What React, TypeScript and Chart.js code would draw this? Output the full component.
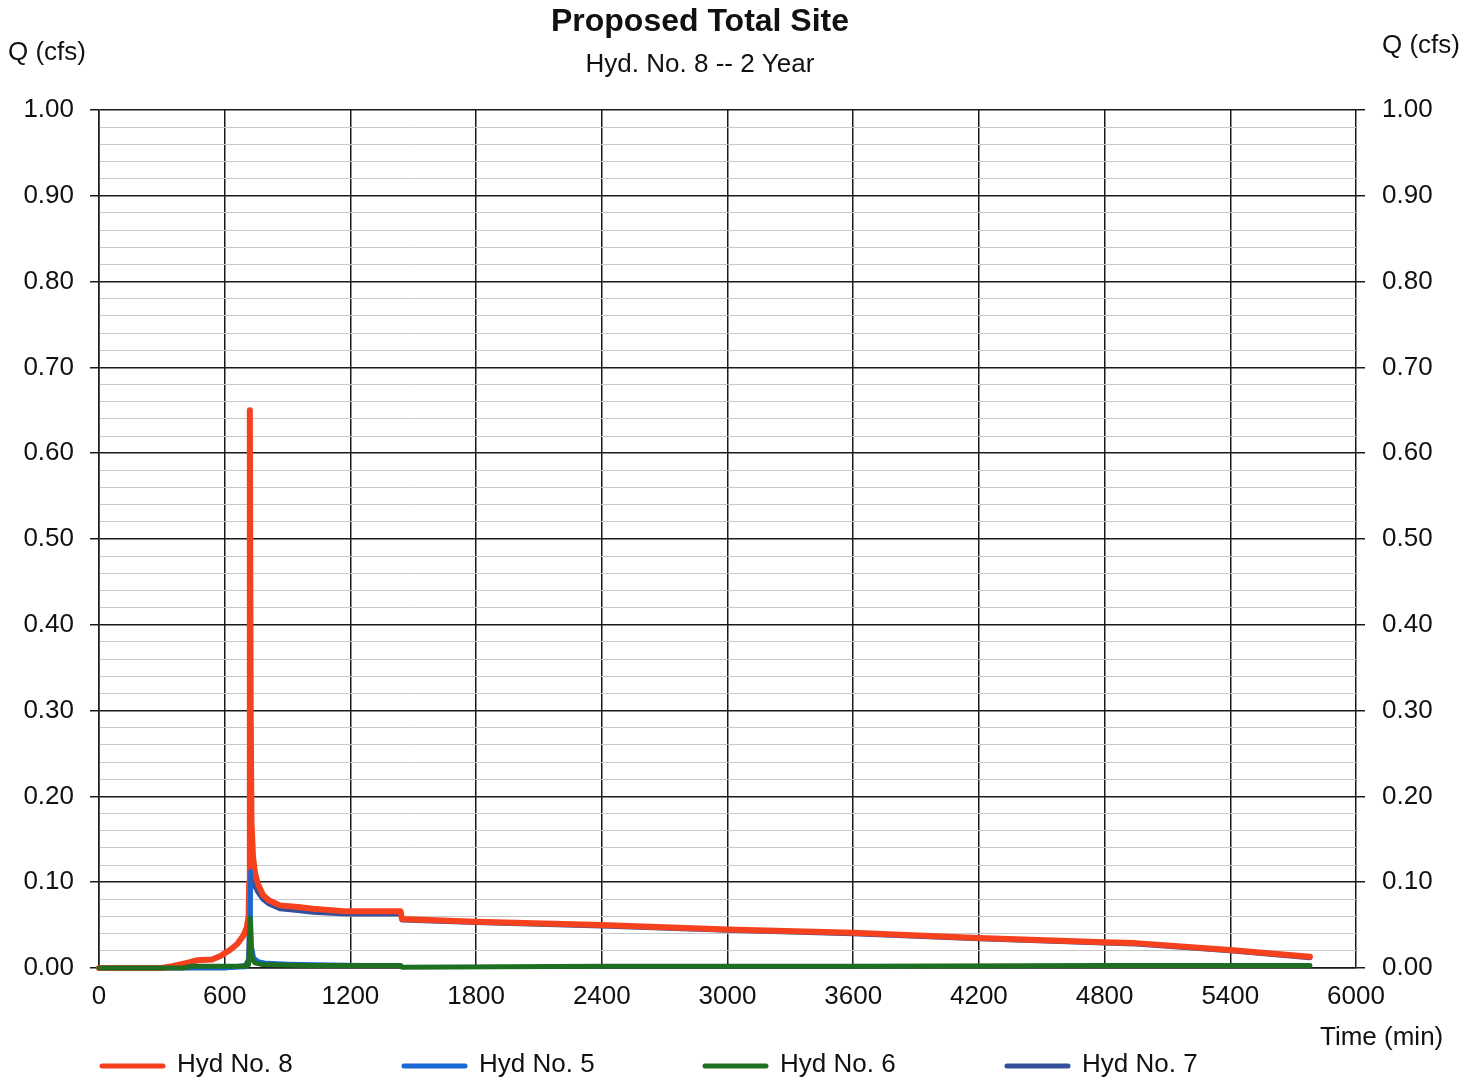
import React, { useEffect, useRef } from 'react';
import { Chart, registerables } from 'chart.js';

Chart.register(...registerables);

const chartTitle = 'Proposed Total Site';
const chartSubtitle = 'Hyd. No. 8 -- 2 Year';
const yAxisTitle = 'Q (cfs)';
const xAxisTitle = 'Time (min)';

const xTicks = [0, 600, 1200, 1800, 2400, 3000, 3600, 4200, 4800, 5400, 6000];
const yMajorTicks = [0, 0.1, 0.2, 0.3, 0.4, 0.5, 0.6, 0.7, 0.8, 0.9, 1.0];
const yMinorStep = 0.02;

const seriesLabels = ['Hyd No. 8', 'Hyd No. 5', 'Hyd No. 6', 'Hyd No. 7'];
const seriesColors = ['#f5411e', '#1768d4', '#1f6f22', '#34509c'];

const hyd8Time = [0, 300, 350, 420, 470, 540, 580, 625, 660, 690, 705, 714, 717, 720, 724, 728, 735, 745, 760, 783, 810, 864, 950, 1020, 1183, 1300, 1440, 1446, 1800, 2400, 3000, 3600, 4200, 4800, 4950, 5400, 5780];
const hyd8Flow = [0, 0, 0.002, 0.006, 0.009, 0.010, 0.014, 0.021, 0.028, 0.038, 0.047, 0.060, 0.10, 0.65, 0.30, 0.17, 0.13, 0.11, 0.097, 0.085, 0.079, 0.073, 0.071, 0.069, 0.066, 0.066, 0.066, 0.057, 0.054, 0.050, 0.045, 0.041, 0.035, 0.030, 0.029, 0.021, 0.013];

const hyd5Time = [0, 600, 700, 714, 718, 722, 725, 730, 740, 760, 800, 900, 1100, 1440];
const hyd5Flow = [0, 0, 0.001, 0.004, 0.03, 0.113, 0.06, 0.025, 0.012, 0.008, 0.006, 0.005, 0.004, 0.003];

const hyd6Time = [0, 400, 440, 700, 714, 718, 722, 726, 732, 745, 780, 1000, 1440, 1446, 2400, 3600, 4800, 5780];
const hyd6Flow = [0, 0, 0.002, 0.002, 0.004, 0.02, 0.058, 0.02, 0.01, 0.006, 0.004, 0.003, 0.003, 0.001, 0.002, 0.002, 0.003, 0.003];

const hyd7Time = [0, 600, 700, 714, 718, 722, 726, 735, 745, 760, 783, 810, 864, 950, 1020, 1183, 1440, 1446, 1800, 2400, 3000, 3600, 4200, 4800, 4950, 5400, 5780];
const hyd7Flow = [0, 0, 0.003, 0.01, 0.06, 0.125, 0.12, 0.105, 0.095, 0.088, 0.080, 0.075, 0.069, 0.067, 0.065, 0.063, 0.063, 0.056, 0.053, 0.049, 0.044, 0.040, 0.034, 0.029, 0.028, 0.020, 0.012];

const FONT = '"Liberation Sans", Arial, sans-serif';

const isMajor = (v: number) => yMajorTicks.some((m) => Math.abs(m - v) < 1e-6);

const toPoints = (t: number[], q: number[]) => t.map((x, i) => ({ x, y: q[i] }));

const textPlugin = {
  id: 'textPlugin',
  afterDraw(chart: any) {
    const ctx = chart.ctx as CanvasRenderingContext2D;
    ctx.save();
    ctx.fillStyle = '#111';
    ctx.textBaseline = 'middle';
    ctx.textAlign = 'center';
    ctx.font = `bold 32px ${FONT}`;
    ctx.fillText(chartTitle, 700, 22);
    ctx.font = `26px ${FONT}`;
    ctx.fillText(chartSubtitle, 700, 65);
    ctx.textAlign = 'left';
    ctx.fillText(yAxisTitle, 8, 53);
    ctx.fillText(yAxisTitle, 1382, 46);
    ctx.fillText(xAxisTitle, 1320, 1038);
    const legendX = [100, 402, 703, 1005];
    seriesLabels.forEach((label, i) => {
      const x = legendX[i];
      ctx.strokeStyle = seriesColors[i];
      ctx.lineWidth = 5;
      ctx.lineCap = 'round';
      ctx.beginPath();
      ctx.moveTo(x + 2, 1066);
      ctx.lineTo(x + 63, 1066);
      ctx.stroke();
      ctx.fillStyle = '#111';
      ctx.fillText(label, x + 77, 1065);
    });
    ctx.restore();
  },
};

export default function App() {
  const ref = useRef<HTMLCanvasElement | null>(null);

  useEffect(() => {
    if (!ref.current) return;
    const gridColor = (c: any) => (c.tick && isMajor(c.tick.value) ? '#1a1a1a' : '#c8c8c8');
    const gridWidth = (c: any) => (c.tick && isMajor(c.tick.value) ? 1.5 : 1);
    const tickColor = (c: any) => (c.tick && isMajor(c.tick.value) ? '#1a1a1a' : 'rgba(0,0,0,0)');
    const buildYTicks = (scale: any) => {
      const n = Math.round(1 / yMinorStep);
      const ticks = [];
      for (let i = 0; i <= n; i++) ticks.push({ value: +(i * yMinorStep).toFixed(2) });
      scale.ticks = ticks;
    };
    const yLabel = (v: any) => (isMajor(Number(v)) ? Number(v).toFixed(2) : '');

    const chart = new Chart(ref.current, {
      type: 'line',
      data: {
        datasets: [
          { label: seriesLabels[2], data: toPoints(hyd6Time, hyd6Flow), borderColor: seriesColors[2], borderWidth: 5, order: 0 },
          { label: seriesLabels[1], data: toPoints(hyd5Time, hyd5Flow), borderColor: seriesColors[1], borderWidth: 4, order: 1 },
          { label: seriesLabels[0], data: toPoints(hyd8Time, hyd8Flow), borderColor: seriesColors[0], borderWidth: 6, order: 2 },
          { label: seriesLabels[3], data: toPoints(hyd7Time, hyd7Flow), borderColor: seriesColors[3], borderWidth: 5, order: 3 },
        ] as any,
      },
      options: {
        animation: false,
        responsive: false,
        devicePixelRatio: 1,
        layout: { padding: { top: 110, left: 0, right: 0, bottom: 0 } },
        elements: {
          point: { radius: 0, hoverRadius: 0 },
          line: { tension: 0, fill: false, borderJoinStyle: 'round', borderCapStyle: 'round' },
        },
        datasets: { line: { clip: 8 } } as any,
        plugins: {
          legend: { display: false },
          title: { display: false },
          tooltip: { enabled: false },
        },
        scales: {
          x: {
            type: 'linear',
            min: 0,
            max: 6000,
            afterBuildTicks: (scale: any) => {
              scale.ticks = xTicks.map((v) => ({ value: v }));
            },
            afterFit: (scale: any) => {
              scale.height = 112;
            },
            ticks: {
              autoSkip: false,
              maxRotation: 0,
              padding: 13,
              color: '#111',
              font: { family: FONT, size: 26 },
              callback: (v: any) => String(v),
            },
            grid: { color: '#1a1a1a', lineWidth: 1.5, drawTicks: false },
            border: { color: '#1a1a1a', width: 1.5 },
          },
          y: {
            type: 'linear',
            position: 'left',
            min: 0,
            max: 1,
            afterBuildTicks: buildYTicks,
            afterFit: (scale: any) => {
              scale.width = 99;
            },
            ticks: {
              autoSkip: false,
              padding: 16,
              color: '#111',
              font: { family: FONT, size: 26 },
              callback: yLabel,
            },
            grid: { color: gridColor, lineWidth: gridWidth, tickColor, tickLength: 9, drawTicks: true },
            border: { color: '#1a1a1a', width: 1.5 },
          },
          y2: {
            type: 'linear',
            position: 'right',
            min: 0,
            max: 1,
            afterBuildTicks: buildYTicks,
            afterFit: (scale: any) => {
              scale.width = 122;
            },
            ticks: {
              autoSkip: false,
              padding: 17,
              color: '#111',
              font: { family: FONT, size: 26 },
              callback: yLabel,
            },
            grid: { drawOnChartArea: false, tickColor, lineWidth: gridWidth, tickLength: 9, drawTicks: true },
            border: { display: false },
          },
        },
      } as any,
      plugins: [textPlugin],
    });
    return () => chart.destroy();
  }, []);

  return (
    <div style={{ position: 'absolute', left: 0, top: 0, width: 1478, height: 1080, background: '#fff' }}>
      <canvas ref={ref} width={1478} height={1080} style={{ display: 'block' }} />
    </div>
  );
}
